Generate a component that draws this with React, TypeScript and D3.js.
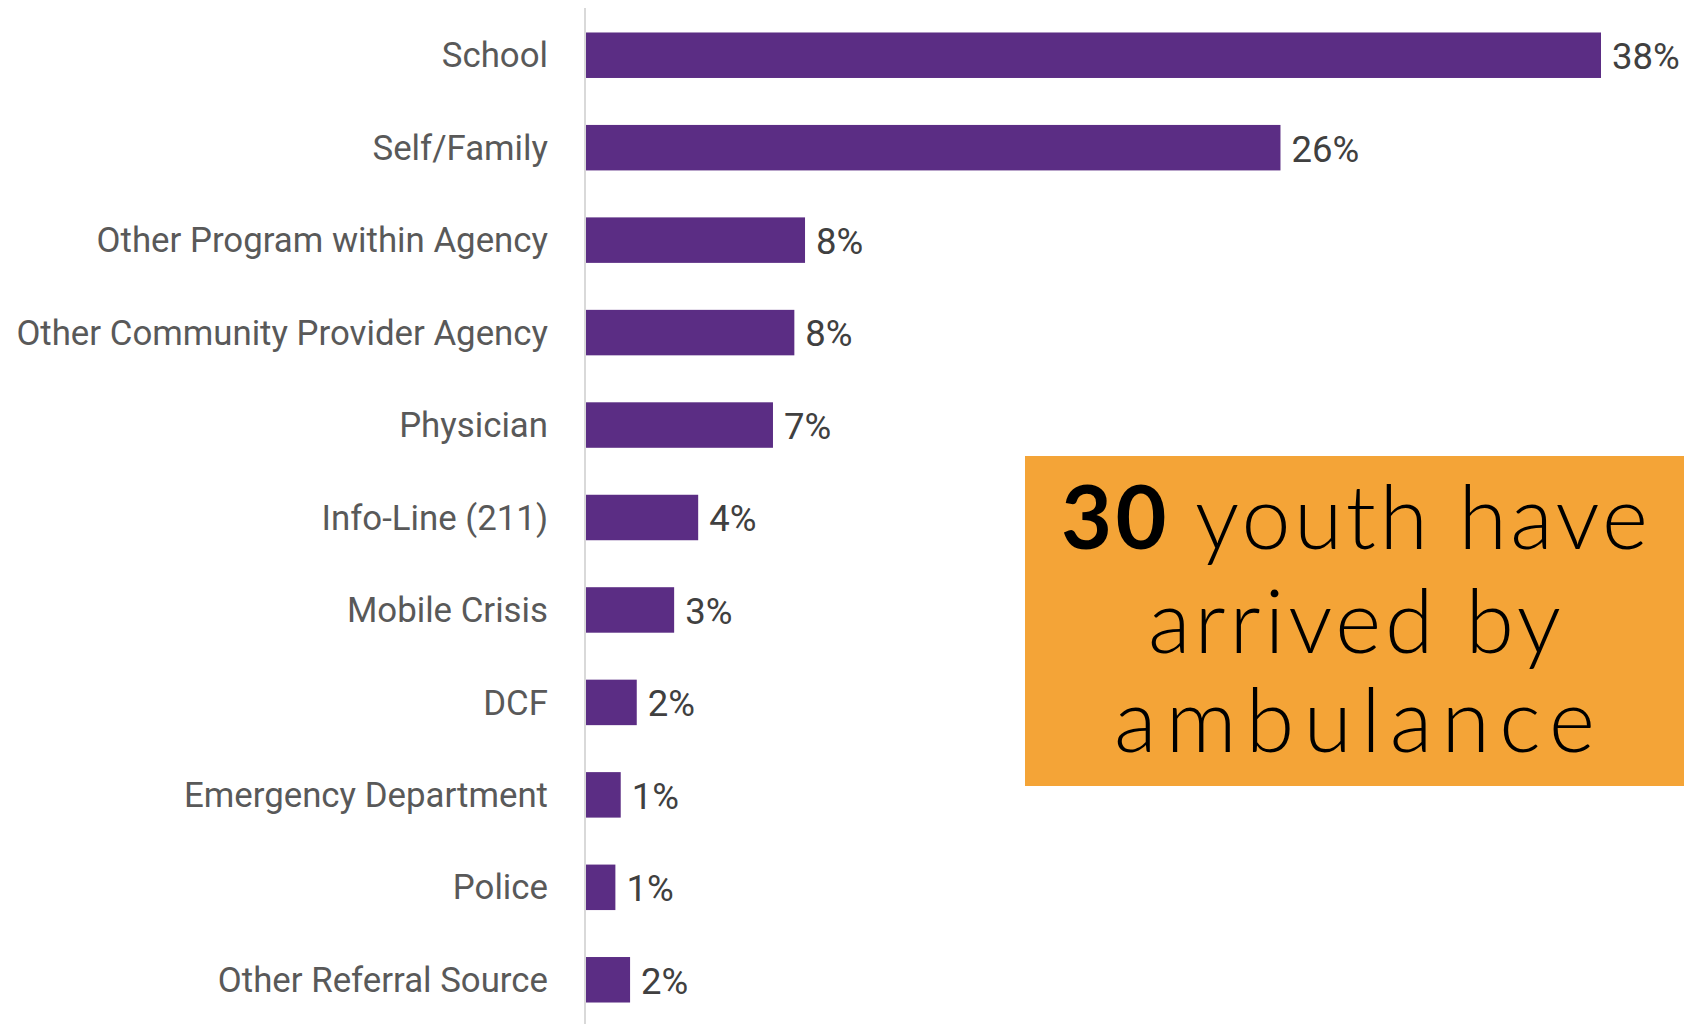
import React from "react";
import * as d3 from "d3";

const categories = [
  "School",
  "Self/Family",
  "Other Program within Agency",
  "Other Community Provider Agency",
  "Physician",
  "Info-Line (211)",
  "Mobile Crisis",
  "DCF",
  "Emergency Department",
  "Police",
  "Other Referral Source",
];
const values = [38, 26, 8.2, 7.8, 7.0, 4.2, 3.3, 1.9, 1.3, 1.1, 1.65];
const valueLabels = ["38%", "26%", "8%", "8%", "7%", "4%", "3%", "2%", "1%", "1%", "2%"];
const calloutNumber = "30";
const calloutLines = [" youth have", "arrived by", "ambulance"];

const W = 1696;
const H = 1024;

export default function App() {
  const x = d3.scaleLinear().domain([0, 38]).range([586, 1601]);
  const y = d3
    .scaleBand<string>()
    .domain(categories)
    .range([9, 1026])
    .paddingInner(0.508)
    .paddingOuter(0.254);

  const box = { x0: 1025, x1: 1684, y0: 456, y1: 786 };
  const cx = (box.x0 + box.x1) / 2;
  const baselines = [549, 653, 752];
  const lineLengths = [587, 413, 481];

  return (
    <svg
      width={W}
      height={H}
      style={{ position: "absolute", left: 0, top: 0, background: "#fff" }}
    >
      <line x1={585} x2={585} y1={8} y2={1024} stroke="#d9d9d9" strokeWidth={2} />
      {categories.map((c, i) => (
        <g key={c}>
          <rect
            x={x(0)}
            y={y(c)}
            width={x(values[i]) - x(0)}
            height={y.bandwidth()}
            fill="#5B2D84"
          />
          <text
            x={548}
            y={(y(c) as number) + y.bandwidth() / 2}
            dy="0.35em"
            textAnchor="end"
            fontFamily="Roboto"
            fontSize={34.8}
            fill="#595959"
          >
            {c}
          </text>
          <text
            x={x(values[i]) + 11}
            y={(y(c) as number) + y.bandwidth() / 2}
            dy="0.38em"
            textAnchor="start"
            fontFamily="Roboto"
            fontSize={36.5}
            fill="#404040"
          >
            {valueLabels[i]}
          </text>
        </g>
      ))}
      <rect
        x={box.x0}
        y={box.y0}
        width={box.x1 - box.x0}
        height={box.y1 - box.y0}
        fill="#F4A437"
      />
      {calloutLines.map((line, i) => (
        <text
          key={i}
          x={cx}
          y={baselines[i]}
          textAnchor="middle"
          fontFamily="Lato"
          fontWeight={300}
          fontSize={88}
          fill="#000"
          textLength={lineLengths[i]}
          lengthAdjust="spacing"
        >
          {i === 0 ? <tspan fontWeight="bold">{calloutNumber}</tspan> : null}
          <tspan>{line}</tspan>
        </text>
      ))}
    </svg>
  );
}
